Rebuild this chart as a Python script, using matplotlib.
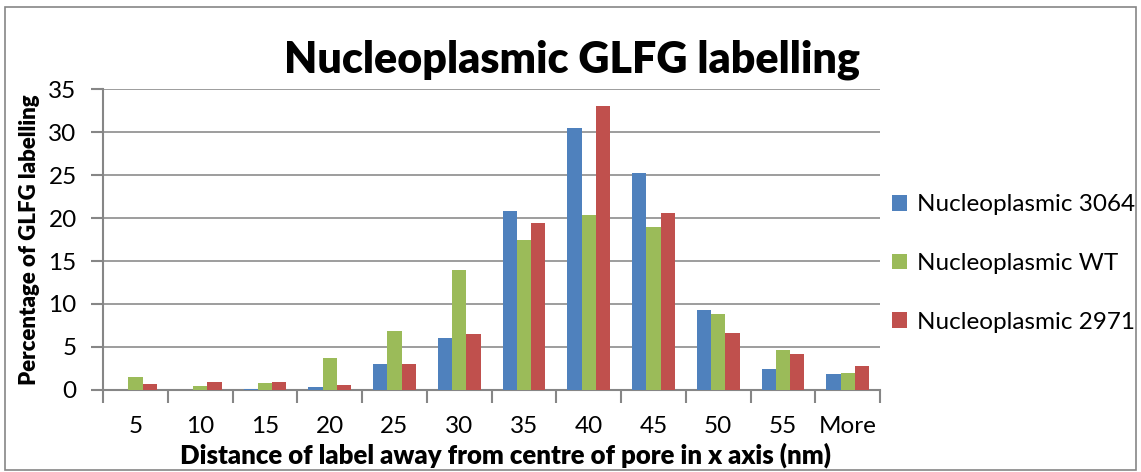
import matplotlib
matplotlib.use("Agg")
import matplotlib.pyplot as plt
from matplotlib.patches import Rectangle
import numpy as np

categories = ["5", "10", "15", "20", "25", "30", "35", "40", "45", "50", "55", "More"]
series_names = ["Nucleoplasmic 3064", "Nucleoplasmic WT", "Nucleoplasmic 2971"]
vals_3064 = [0.0, 0.0, 0.1, 0.3, 3.0, 6.0, 20.8, 30.5, 25.2, 9.3, 2.4, 1.8]
vals_wt   = [1.5, 0.4, 0.8, 3.7, 6.8, 13.9, 17.4, 20.3, 19.0, 8.8, 4.6, 2.0]
vals_2971 = [0.7, 0.9, 0.9, 0.6, 3.0, 6.5, 19.4, 33.1, 20.6, 6.6, 4.2, 2.8]
colors = ["#4F81BD", "#9BBB59", "#C0504D"]

plt.rcParams["font.family"] = ["Lato", "DejaVu Sans"]

fig = plt.figure(figsize=(11.41, 4.72), dpi=100)
ax = fig.add_axes([0.0903, 0.174, 0.681, 0.637])

x = np.arange(len(categories))
w = 0.22
for i, (name, vals, c) in enumerate(zip(series_names, [vals_3064, vals_wt, vals_2971], colors)):
    ax.bar(x + (i - 1) * w, vals, width=w, color=c, label=name, zorder=3)

ax.set_xlim(-0.5, len(categories) - 0.5)
ax.set_ylim(0, 35)
ax.set_yticks(range(0, 36, 5))
ax.set_xticks(x)
ax.set_xticklabels(categories)
ax.set_xticks(np.arange(-0.5, len(categories), 1), minor=True)
ax.tick_params(axis="x", which="major", length=0, pad=19, labelsize=17.5)
ax.tick_params(axis="x", which="minor", length=9, width=1.5, color="#868686", direction="out")
ax.tick_params(axis="y", length=9, width=1.5, color="#868686", labelsize=17.5, pad=10)
ax.grid(True, axis="y", color="#8c8c8c", linewidth=1.2, zorder=0)
for s in ["top", "right"]:
    ax.spines[s].set_visible(False)
for s in ["left", "bottom"]:
    ax.spines[s].set_color("#868686")
    ax.spines[s].set_linewidth(1.5)

ax.set_ylabel("Percentage of GLFG labelling", fontsize=16, fontweight="heavy", labelpad=6)
fig.text(0.4426, 0.036, "Distance of label away from centre of pore in x axis (nm)",
         fontsize=18.5, fontweight="heavy", ha="center", va="center")
fig.text(0.501, 0.873, "Nucleoplasmic GLFG labelling", fontsize=31, fontweight="heavy",
         ha="center", va="center")

ax.legend(loc="center left", bbox_to_anchor=(1.0, 0.42), frameon=False, fontsize=17.5,
          borderaxespad=0.3, borderpad=0.2,
          handlelength=0.6, handleheight=0.6, labelspacing=1.55, handletextpad=0.4)

fig.patches.append(Rectangle((0.004, 0.004), 0.992, 0.982, transform=fig.transFigure,
                             fill=False, edgecolor="#868686", linewidth=1.2))

plt.savefig("out.png", dpi=100)
